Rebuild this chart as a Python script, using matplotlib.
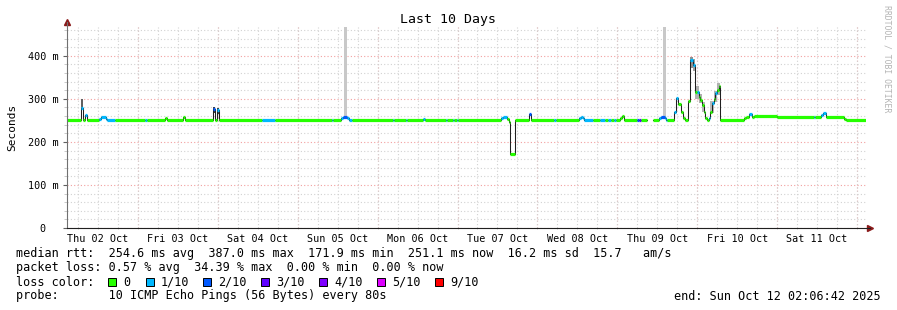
import numpy as np
import pandas as pd
import matplotlib
matplotlib.use("Agg")
import matplotlib.pyplot as plt
import matplotlib.dates as mdates
from matplotlib.patches import Rectangle
from matplotlib.ticker import MultipleLocator, FixedLocator, FuncFormatter

plt.rcParams["font.family"] = "DejaVu Sans Mono"

W, H = 897, 310

# time window (left edge of the plot), values are hours after it
start_time = pd.Timestamp("2025-10-02 02:42")
span_hours = 240

# median rtt segments: start hour, median (ms), loss level index
seg_hour = [0.0, 4.2, 4.8, 5.4, 6.0, 9.6, 10.2, 11.7, 12.0, 14.4,
            23.4, 24.0, 29.4, 30.0, 34.8, 35.4, 43.8, 44.4, 45.0, 45.6,
            58.5, 62.4, 79.5, 79.8, 82.2, 82.8, 84.0, 84.6, 85.5,
            97.8, 98.1, 101.7, 102.0, 106.8, 107.4, 113.7, 114.0,
            115.8, 116.1, 117.0, 117.3,
            130.5, 131.1, 132.3, 132.9, 133.2, 134.7, 138.9, 139.5,
            146.4, 147.0, 153.9, 154.5, 155.1, 155.4, 158.0, 160.0,
            161.5, 162.5, 163.5, 164.3, 165.0, 166.2, 166.8, 167.4,
            171.3, 171.9, 172.5, 174.3, 176.1, 177.9, 178.5, 179.7, 180.0, 180.3,
            182.4, 182.9, 183.6, 184.4, 185.1, 185.6, 186.4, 187.1, 187.9,
            188.7, 189.1, 189.7, 190.2, 190.7, 191.2, 191.7, 192.2, 192.7,
            193.2, 193.7, 194.2, 194.7, 195.2, 195.7, 196.2,
            203.4, 203.9, 204.9, 205.7, 206.4, 213.4, 224.4, 224.7,
            226.4, 227.1, 227.9, 233.4, 234.1]
median_ms = [251, 279, 251, 262, 251, 254, 257, 254, 251, 251,
             251, 251, 256, 251, 257, 251, 277, 251, 275, 251,
             251, 251, 251, 251, 255, 259, 256, 251, 251,
             251, 251, 251, 251, 253, 251, 251, 251,
             251, 251, 251, 251,
             255, 257, 253, 246, 172, 251, 264, 251,
             251, 251, 256, 259, 255, 251, 251, 251,
             251, 251, 251, 251, 251, 256, 260, 251,
             251, 251, 251, np.nan, 251, 255, 259, 255, 251, 251,
             270, 302, 289, 270, 255, 251, 296, 390, 379,
             317, 315, 305, 298, 286, 270, 255, 251, 255,
             270, 290, 299, 313, 321, 330, 251,
             256, 259, 264, 257, 261, 258, 258, 258,
             263, 267, 259, 253, 251]
loss_level = [0, 1, 0, 1, 0, 1, 1, 1, 1, 0,
              1, 0, 0, 0, 0, 0, 2, 0, 1, 0,
              1, 0, 1, 0, 1, 2, 1, 1, 0,
              1, 0, 1, 0, 1, 0, 1, 0,
              1, 0, 1, 0,
              1, 1, 0, 0, 0, 0, 2, 0,
              1, 0, 1, 1, 1, 1, 0, 1,
              0, 1, 0, 1, 0, 0, 0, 0,
              2, 3, 0, 0, 0, 1, 2, 1, 1, 0,
              1, 1, 0, 0, 0, 0, 0, 1, 1,
              0, 1, 0, 0, 0, 0, 0, 0, 1,
              0, 1, 0, 1, 0, 0, 0,
              0, 0, 1, 0, 0, 0, 1, 0,
              1, 1, 0, 0, 0]

# smoke (spread of the individual pings): start hour, end hour, low, high (ms), grey shade
smoke_start = [4.2, 43.8, 45.0, 83.1, 178.9, 187.1, 187.9, 188.7, 189.7, 190.7, 193.2, 194.2, 195.2]
smoke_end = [4.8, 44.4, 45.6, 84.0, 179.8, 187.9, 188.7, 189.7, 190.7, 191.7, 194.2, 195.2, 196.2]
smoke_lo = [279, 268, 265, 259, 259, 372, 365, 300, 290, 270, 268, 292, 310]
smoke_hi = [300, 280, 278, 600, 600, 398, 392, 330, 312, 292, 295, 318, 336]
smoke_shade = ["#606060", "#404040", "#404040", "#c8c8c8", "#c8c8c8", "#909090", "#a0a0a0",
               "#b0b0b0", "#b0b0b0", "#b8b8b8", "#b8b8b8", "#b0b0b0", "#b0b0b0"]

loss_labels = ["0", "1/10", "2/10", "3/10", "4/10", "5/10", "9/10"]
loss_colors = ["#26ff00", "#00b8ff", "#0059ff", "#5e00ff", "#7e00ff", "#dd00ff", "#ff0000"]

day_labels = ["Thu 02 Oct", "Fri 03 Oct", "Sat 04 Oct", "Sun 05 Oct", "Mon 06 Oct",
              "Tue 07 Oct", "Wed 08 Oct", "Thu 09 Oct", "Fri 10 Oct", "Sat 11 Oct"]

y_ticks = [0, 100, 200, 300, 400]
y_tick_labels = ["0  ", "100 m", "200 m", "300 m", "400 m"]


def to_num(hours):
    return mdates.date2num(start_time.to_pydatetime()) + np.asarray(hours, dtype=float) / 24.0


fig = plt.figure(figsize=(W / 100, H / 100), dpi=100)
ax = fig.add_axes([67 / W, 82 / H, 799 / W, 201 / H])

ax.set_xlim(to_num(0), to_num(span_hours))
ax.set_ylim(0, 467)

# grid
ax.set_axisbelow(True)
ax.set_yticks(y_ticks)
ax.set_yticklabels(y_tick_labels)
ax.yaxis.set_minor_locator(MultipleLocator(20))
minor_col = "#d2d2d2"
major_col = "#f2a0a0"
ax.grid(True, which="minor", axis="y", color=minor_col, linestyle=(0, (1, 2)), lw=0.8)
ax.grid(True, which="major", axis="y", color=major_col, linestyle=(0, (1, 2)), lw=0.8)

day0 = pd.Timestamp("2025-10-02")
noon = [mdates.date2num((day0 + pd.Timedelta(days=i, hours=12)).to_pydatetime()) for i in range(len(day_labels))]
ax.set_xticks(noon)
ax.set_xticklabels(day_labels)
ax.xaxis.set_minor_locator(mdates.HourLocator(byhour=[0, 6, 12, 18]))
ax.xaxis.remove_overlapping_locs = False
ax.grid(True, which="minor", axis="x", color=minor_col, linestyle=(0, (1, 2)), lw=0.8)
for i in range(1, 11):
    d = mdates.date2num((day0 + pd.Timedelta(days=i)).to_pydatetime())
    ax.axvline(d, color=major_col, linestyle=(0, (1, 2)), lw=0.8, zorder=0.5)

ax.tick_params(axis="x", which="major", length=0, labelsize=7.3, pad=4)
ax.tick_params(axis="x", which="minor", length=2, color="#c0c0c0", direction="inout")
ax.tick_params(axis="y", which="major", length=3, labelsize=7.3, pad=3, color="#606060")
ax.tick_params(axis="y", which="minor", length=2, color="#c0c0c0")

for s in ax.spines.values():
    s.set_visible(False)

# smoke
for s, e, lo, hi, c in zip(smoke_start, smoke_end, smoke_lo, smoke_hi, smoke_shade):
    ax.fill_between(to_num([s, e]), [lo, lo], [hi, hi], color=c, lw=0, zorder=2)

# median line (thin dark) then loss coloured thick segments
edges = to_num(seg_hour + [span_hours])
vals = np.array(median_ms + [median_ms[-1]], dtype=float)
ax.step(edges, vals, where="post", color="#202020", lw=0.75, zorder=3)
med = np.array(median_ms, dtype=float)
ok = ~np.isnan(med)
seg_cols = [loss_colors[l] for l in loss_level]
ax.hlines(med[ok], edges[:-1][ok], edges[1:][ok],
          colors=[c for c, k in zip(seg_cols, ok) if k], lw=2.3, zorder=4)

# axes lines with arrows
ax.plot([0, 0], [0, 1.025], transform=ax.transAxes, color="#707070", lw=0.8, clip_on=False, zorder=5)
ax.plot([0, 1.005], [0, 0], transform=ax.transAxes, color="#202020", lw=0.8, clip_on=False, zorder=5)
ax.plot([0], [1.025], marker="^", ms=4, color="#8b1a1a", transform=ax.transAxes, clip_on=False)
ax.plot([1.005], [0], marker=">", ms=4, color="#8b1a1a", transform=ax.transAxes, clip_on=False)

ax.set_ylabel("Seconds", fontsize=8, labelpad=8)

fig.text(448 / W, 1 - 20 / H, "Last 10 Days", ha="center", va="center", fontsize=9.5)
fig.text(887 / W, 1 - 5 / H, "RRDTOOL / TOBI OETIKER", rotation=270, ha="center", va="top",
         fontsize=5.9, color="#b4b4b4")


def row(y, s, x=16, **kw):
    fig.text(x / W, 1 - y / H, s, ha="left", va="center", fontsize=8.5, **kw)


row(254, "median rtt:  254.6 ms avg  387.0 ms max  171.9 ms min  251.1 ms now  16.2 ms sd  15.7   am/s")
row(268, "packet loss: 0.57 % avg  34.39 % max  0.00 % min  0.00 % now")
row(282, "loss color:")
row(296, "probe:       10 ICMP Echo Pings (56 Bytes) every 80s")
fig.text(881 / W, 1 - 296 / H, "end: Sun Oct 12 02:06:42 2025", ha="right", va="center", fontsize=8.5)

box_x = [108, 146, 203, 261, 319, 377, 435]
for bx, lab, col in zip(box_x, loss_labels, loss_colors):
    fig.add_artist(Rectangle((bx / W, 1 - 286 / H), 8 / W, 8 / H, transform=fig.transFigure,
                             facecolor=col, edgecolor="black", lw=0.7))
    row(282, lab, x=bx + 15)

fig.savefig("out.png", dpi=100)
